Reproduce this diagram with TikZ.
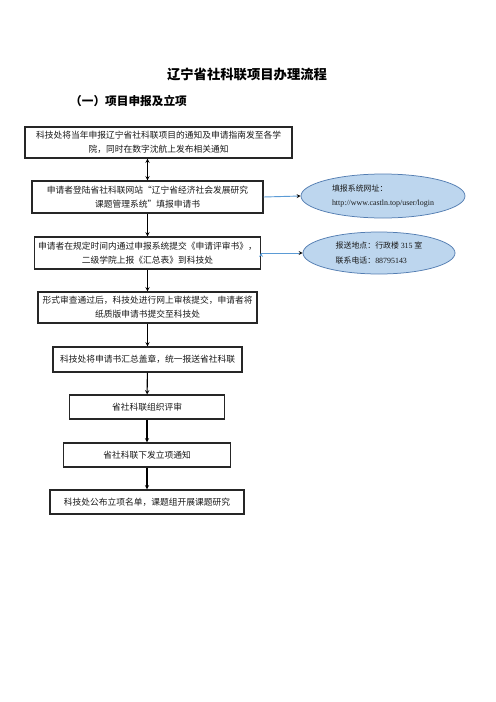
\documentclass[tikz,border=0pt]{standalone}
\usepackage{fontspec}
\setmainfont{Liberation Serif}
\newfontfamily\cjk{Noto Sans CJK SC}
\usetikzlibrary{shapes.geometric}
\definecolor{infofill}{RGB}{189,214,238}
\definecolor{infodraw}{RGB}{84,126,178}
\definecolor{infoline}{RGB}{91,155,213}

\begin{document}
\begin{tikzpicture}[x=1.2pt,y=-1.2pt,-,>=stealth,
  box node/.style={rectangle,draw=black!85,line width=1.3pt,align=center,inner sep=0pt,text=black!90,font=\cjk\fontsize{10.5}{16.8}\selectfont},
  info node/.style={ellipse,draw=infodraw,line width=0.9pt,fill=infofill,align=left,inner sep=0pt,text=black!90,font=\cjk\fontsize{9.5}{17.5}\selectfont}]
  \useasboundingbox (0,0) rectangle (496,702);

  % headings
  \node (title) at (247,74) {\cjk\bfseries\fontsize{16}{19}\selectfont 辽宁省社科联项目办理流程};
  \node[anchor=west,inner sep=0pt] (sub) at (70,101) {\cjk\bfseries\fontsize{14}{17}\selectfont （一）项目申报及立项};

  % steps
  \node[box node,minimum width=320.4pt,minimum height=37.2pt] (1) at (158.5,142.5) {科技处将当年申报辽宁省社科联项目的通知及申请指南发至各学\\院，同时在数字沈航上发布相关通知};
  \node[box node,minimum width=277.2pt,minimum height=38.4pt] (2) at (147.5,197) {申请者登陆省社科联网站“辽宁省经济社会发展研究\\课题管理系统”填报申请书};
  \node[box node,minimum width=271.2pt,minimum height=38.4pt] (3) at (147.5,253) {申请者在规定时间内通过申报系统提交《申请评审书》，\\二级学院上报《汇总表》到科技处};
  \node[box node,minimum width=262.8pt,minimum height=37.2pt] (4) at (147.5,307.5) {形式审查通过后，科技处进行网上审核提交，申请者将\\纸质版申请书提交至科技处};
  \node[box node,minimum width=226.8pt,minimum height=30pt] (5) at (147.5,359.5) {科技处将申请书汇总盖章，统一报送省社科联};
  \node[box node,minimum width=186pt,minimum height=28.8pt] (6) at (147,407) {省社科联组织评审};
  \node[box node,minimum width=200.4pt,minimum height=28.8pt] (7) at (147,455) {省社科联下发立项通知};
  \node[box node,minimum width=232.8pt,minimum height=28.8pt] (8) at (147,502) {科技处公布立项名单，课题组开展课题研究};

  % notes
  \node[info node,minimum width=196.8pt,minimum height=52.8pt] (url) at (383,196) {填报系统网址：\\{\rmfamily http://www.castln.top/user/login}};
  \node[info node,minimum width=182.4pt,minimum height=50.4pt] (addr) at (379,253) {报送地点：行政楼 {\rmfamily 315} 室\\联系电话：{\rmfamily 88795143}};

  \path[->,draw=black,line width=1.3pt]
    (1.south -| 2.north) edge (2.north)
    (2) edge (3)
    (3) edge (4)
    (4) edge (5)
    (5) edge (6)
    (6) edge (7)
    (7) edge (8)
  ;

  \path[->,draw=infoline,line width=1.1pt]
    (2.east) edge (url.west)
    (3.east) edge (addr.west)
  ;
\end{tikzpicture}
\end{document}
